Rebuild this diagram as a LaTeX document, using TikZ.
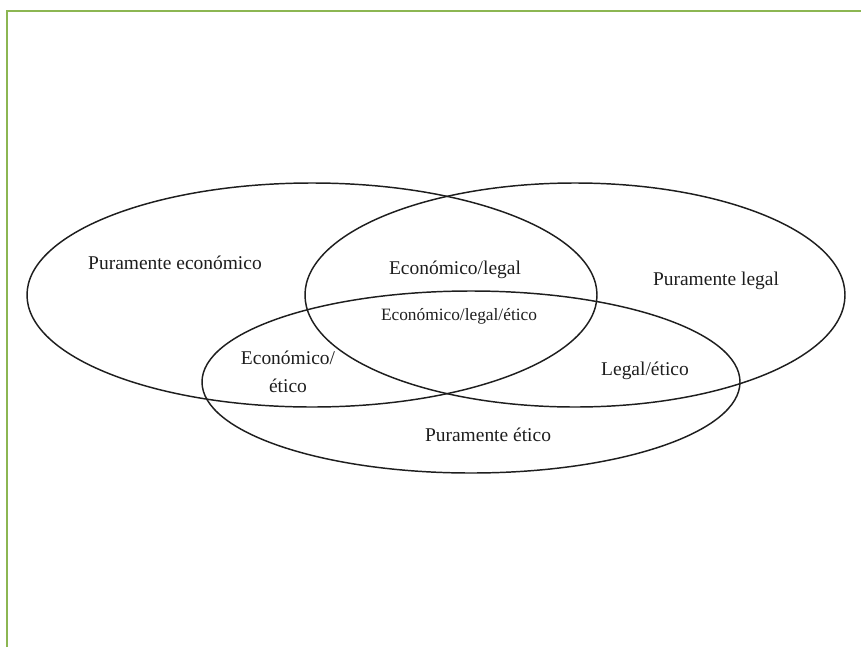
\documentclass[tikz,border=0pt]{standalone}
\usepackage{fontspec}
\setmainfont{Liberation Serif}
\definecolor{framegreen}{RGB}{140,182,82}
\definecolor{ink}{RGB}{30,30,30}
\begin{document}
\begin{tikzpicture}[x=0.75pt,y=-0.75pt,
  setline/.style={draw=ink,line width=1.1pt},
  lbl/.style={inner sep=0pt,text=ink,font=\fontsize{14.6}{21}\selectfont,align=center},
  lblsmall/.style={lbl,font=\fontsize{13}{18}\selectfont}]
  \useasboundingbox (0,0) rectangle (861,647);
  % page frame on top and left
  \draw[framegreen,line width=1.6pt] (7,647) -- (7,11) -- (861,11);
  % the three sets
  \draw[setline] (312,295) ellipse [x radius=285,y radius=112];
  \draw[setline] (575,295) ellipse [x radius=270,y radius=112];
  \draw[setline] (471,382) ellipse [x radius=269,y radius=91];
  % region labels
  \node[lbl] (econ) at (175,263) {Puramente económico};
  \node[lbl] (econlegal) at (455,270) {Económico/legal};
  \node[lbl] (legal) at (716,281) {Puramente legal};
  \node[lblsmall] (all) at (459,316) {Económico/legal/ético};
  \node[lbl] (econetico) at (288,372) {Económico/\\ético};
  \node[lbl] (legaletico) at (645,371) {Legal/ético};
  \node[lbl] (etico) at (488,435) {Puramente ético};
\end{tikzpicture}
\end{document}
